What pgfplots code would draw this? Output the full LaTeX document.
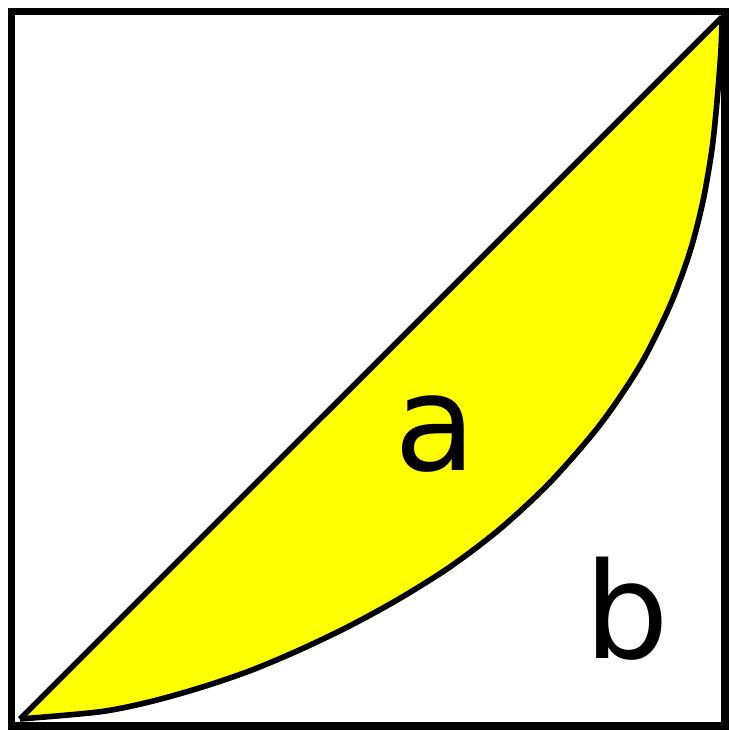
\documentclass[border=0pt]{standalone}
\usepackage{pgfplots}
\pgfplotsset{compat=1.18}
\usepackage{fontspec}
\setmainfont{DejaVu Sans}
\definecolor{lzyellow}{RGB}{255,255,0}

\pgfplotstableread{
x       y
0.0119  0.0098
0.1240  0.0199
0.1941  0.0339
0.2642  0.0535
0.3343  0.0773
0.4043  0.1067
0.4744  0.1403
0.5445  0.1787
0.6146  0.2227
0.6847  0.2759
0.7548  0.3410
0.8248  0.4216
0.8809  0.5044
0.9229  0.5884
0.9509  0.6640
0.9692  0.7349
0.9818  0.8079
0.9888  0.8744
0.9944  0.9472
0.9958  0.9922
}\curve

\begin{document}
\begin{tikzpicture}
\begin{axis}[
  scale only axis,
  width=71.35mm,
  height=71.45mm,
  xmin=0, xmax=1,
  ymin=0, ymax=1,
  xtick=\empty, ytick=\empty,
  axis line style={line width=2pt, black},
  clip=false,
]
% area between diagonal and curve (closed by the straight diagonal)
\addplot[fill=lzyellow, draw=none, smooth] table[x=x, y=y] {\curve} -- cycle;
% curve
\addplot[black, line width=1.6pt, smooth] table[x=x, y=y] {\curve};
% diagonal
\addplot[black, line width=1.6pt] coordinates {(0.0119,0.0098) (0.9958,0.9922)};
\node[anchor=base, inner sep=0pt, font=\fontsize{38}{40}\selectfont] at (axis cs:0.594,0.358) {a};
\node[anchor=base, inner sep=0pt, font=\fontsize{38}{40}\selectfont] at (axis cs:0.863,0.095) {b};
\coordinate (bl) at (rel axis cs:0,0);
\coordinate (tr) at (rel axis cs:1,1);
\end{axis}
\pgfresetboundingbox
\path[use as bounding box] ([shift={(-1.15mm,-0.5mm)}]bl) rectangle ([shift={(0.3mm,1.15mm)}]tr);
\end{tikzpicture}
\end{document}
